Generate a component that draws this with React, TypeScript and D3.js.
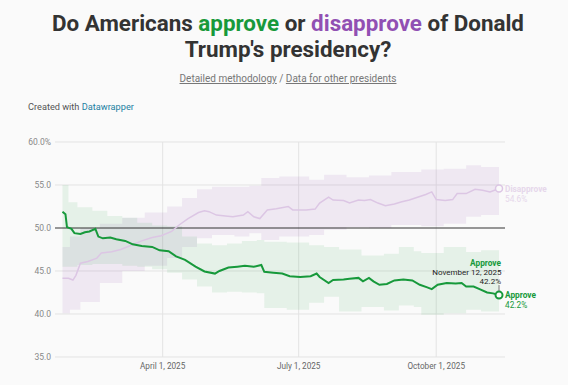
import React, { useRef, useEffect } from 'react';
import * as d3 from 'd3';

const yTicks = [35, 40, 45, 50, 55, 60];
const xTicks = ['2025-04-01', '2025-07-01', '2025-10-01'];

const approve: [string, number][] = [
  ['2025-01-24', 51.9], ['2025-01-26', 51.6], ['2025-01-27', 50.1], ['2025-01-30', 49.9],
  ['2025-02-01', 49.4], ['2025-02-05', 49.3], ['2025-02-08', 49.5], ['2025-02-11', 49.6],
  ['2025-02-15', 49.9], ['2025-02-17', 49.0], ['2025-02-20', 48.8], ['2025-02-25', 48.9],
  ['2025-03-01', 48.7], ['2025-03-07', 48.5], ['2025-03-12', 48.1], ['2025-03-18', 47.9],
  ['2025-03-25', 47.8], ['2025-03-30', 47.4], ['2025-04-05', 47.3], ['2025-04-10', 46.7],
  ['2025-04-16', 46.3], ['2025-04-23', 45.5], ['2025-04-29', 44.95], ['2025-05-06', 44.7],
  ['2025-05-09', 45.0], ['2025-05-15', 45.4], ['2025-05-21', 45.5], ['2025-05-26', 45.6],
  ['2025-06-01', 45.5], ['2025-06-06', 45.7], ['2025-06-08', 44.9], ['2025-06-14', 44.8],
  ['2025-06-20', 44.7], ['2025-06-25', 44.4], ['2025-07-02', 44.3], ['2025-07-09', 44.4],
  ['2025-07-13', 44.7], ['2025-07-15', 44.3], ['2025-07-21', 43.6], ['2025-07-24', 43.95],
  ['2025-07-31', 44.0], ['2025-08-04', 44.1], ['2025-08-10', 44.2], ['2025-08-13', 43.8],
  ['2025-08-17', 44.2], ['2025-08-20', 43.8], ['2025-08-24', 43.4], ['2025-08-29', 43.5],
  ['2025-09-03', 43.9], ['2025-09-09', 44.0], ['2025-09-15', 43.9], ['2025-09-20', 43.4],
  ['2025-09-25', 43.1], ['2025-09-28', 42.9], ['2025-10-02', 43.4], ['2025-10-08', 43.6],
  ['2025-10-14', 43.55], ['2025-10-18', 43.6], ['2025-10-21', 43.2], ['2025-10-26', 43.2],
  ['2025-10-30', 42.9], ['2025-11-04', 42.5], ['2025-11-08', 42.4], ['2025-11-12', 42.2],
];

const disapprove: [string, number][] = [
  ['2025-01-24', 44.15], ['2025-01-28', 44.15], ['2025-01-31', 43.95], ['2025-02-02', 44.5],
  ['2025-02-05', 45.9], ['2025-02-10', 46.1], ['2025-02-16', 46.5], ['2025-02-19', 47.1],
  ['2025-02-26', 47.25], ['2025-03-04', 47.5], ['2025-03-11', 48.0], ['2025-03-18', 48.5],
  ['2025-03-25', 48.9], ['2025-03-31', 49.1], ['2025-04-07', 49.6], ['2025-04-12', 50.35],
  ['2025-04-18', 51.1], ['2025-04-25', 51.8], ['2025-04-29', 52.0], ['2025-05-02', 51.9],
  ['2025-05-07', 51.5], ['2025-05-13', 51.4], ['2025-05-18', 51.3], ['2025-05-25', 51.5],
  ['2025-05-28', 51.9], ['2025-06-01', 51.3], ['2025-06-05', 51.1], ['2025-06-10', 52.1],
  ['2025-06-16', 52.25], ['2025-06-24', 52.5], ['2025-06-27', 52.1], ['2025-07-06', 52.1],
  ['2025-07-12', 52.2], ['2025-07-15', 52.9], ['2025-07-21', 53.6], ['2025-07-24', 53.25],
  ['2025-07-31', 53.2], ['2025-08-04', 52.9], ['2025-08-10', 53.25], ['2025-08-14', 53.2],
  ['2025-08-18', 53.3], ['2025-08-23', 52.9], ['2025-08-28', 52.6], ['2025-09-03', 52.8],
  ['2025-09-08', 53.05], ['2025-09-13', 53.25], ['2025-09-19', 53.6], ['2025-09-24', 53.9],
  ['2025-09-28', 54.2], ['2025-10-01', 53.3], ['2025-10-07', 53.2], ['2025-10-12', 53.3],
  ['2025-10-15', 54.0], ['2025-10-21', 54.0], ['2025-10-27', 54.5], ['2025-11-01', 54.4],
  ['2025-11-06', 54.2], ['2025-11-12', 54.6],
];

// [date, low, high]
const approveBand: [string, number, number][] = [
  ['2025-01-24', 45.5, 55.0], ['2025-01-28', 45.5, 53.0], ['2025-02-03', 45.7, 52.4],
  ['2025-02-13', 45.8, 52.0], ['2025-02-23', 45.8, 51.4], ['2025-03-05', 45.6, 51.2],
  ['2025-03-15', 45.5, 50.6], ['2025-03-25', 45.2, 50.3], ['2025-04-04', 44.8, 50.2],
  ['2025-04-14', 44.0, 49.0], ['2025-04-24', 43.2, 48.2], ['2025-05-04', 42.5, 48.0],
  ['2025-05-14', 42.6, 48.2], ['2025-05-24', 42.5, 48.5], ['2025-06-03', 42.4, 48.6],
  ['2025-06-08', 40.7, 48.4], ['2025-06-23', 40.5, 48.3], ['2025-07-08', 41.3, 48.0],
  ['2025-07-18', 42.0, 47.8], ['2025-07-28', 40.3, 47.5], ['2025-08-12', 40.8, 46.8],
  ['2025-08-27', 40.4, 47.0], ['2025-09-06', 41.0, 47.8], ['2025-09-16', 40.8, 47.3],
  ['2025-09-21', 39.9, 47.1], ['2025-10-06', 40.1, 47.8], ['2025-10-21', 40.5, 47.2],
  ['2025-10-31', 40.3, 47.4], ['2025-11-12', 40.1, 47.1],
];

const disapproveBand: [string, number, number][] = [
  ['2025-01-24', 40.1, 47.8], ['2025-01-29', 40.5, 49.0], ['2025-02-05', 41.4, 50.0],
  ['2025-02-18', 43.6, 50.5], ['2025-03-05', 45.0, 51.2], ['2025-03-20', 45.6, 51.8],
  ['2025-04-04', 46.5, 52.5], ['2025-04-14', 47.8, 53.5], ['2025-04-24', 48.8, 54.5],
  ['2025-05-04', 49.2, 54.8], ['2025-05-19', 49.0, 54.8], ['2025-05-29', 49.4, 54.9],
  ['2025-06-06', 48.6, 55.8], ['2025-06-18', 49.0, 56.0], ['2025-07-08', 49.2, 55.6],
  ['2025-07-18', 49.8, 56.2], ['2025-08-02', 50.1, 55.9], ['2025-08-17', 50.0, 56.1],
  ['2025-09-01', 50.35, 56.5], ['2025-09-21', 50.2, 56.8], ['2025-10-06', 50.5, 56.9],
  ['2025-10-21', 51.3, 57.3], ['2025-10-31', 51.5, 57.1], ['2025-11-12', 51.7, 57.3],
];

const green = '#17993b';
const purple = '#9150b3';
const fadedPurple = '#dcc6e4';

export default function App() {
  const svgRef = useRef<SVGSVGElement>(null);

  useEffect(() => {
    const svg = d3.select(svgRef.current);
    svg.selectAll('*').remove();
    const parse = d3.timeParse('%Y-%m-%d');
    const fmt = d3.timeFormat('%B %-d, %Y');

    const x = d3.scaleTime()
      .domain([parse('2025-01-19')!, parse('2025-11-16')!])
      .range([55, 505]);
    const y = d3.scaleLinear().domain([35, 60]).range([357, 142]);

    // title
    const title = svg.append('text')
      .attr('text-anchor', 'middle')
      .attr('font-size', 22.4)
      .attr('font-weight', 700)
      .attr('fill', '#333');
    const l1 = title.append('tspan').attr('x', 288).attr('y', 31);
    l1.append('tspan').text('Do Americans ');
    l1.append('tspan').attr('fill', green).text('approve');
    l1.append('tspan').text(' or ');
    l1.append('tspan').attr('fill', purple).text('disapprove');
    l1.append('tspan').text(' of Donald');
    title.append('tspan').attr('x', 288).attr('y', 57).text("Trump's presidency?");

    const sub = svg.append('text')
      .attr('x', 288).attr('y', 82)
      .attr('text-anchor', 'middle')
      .attr('font-size', 10)
      .attr('fill', '#777');
    sub.append('tspan').attr('text-decoration', 'underline').text('Detailed methodology');
    sub.append('tspan').text(' / ');
    sub.append('tspan').attr('text-decoration', 'underline').text('Data for other presidents');

    const credit = svg.append('text')
      .attr('x', 28).attr('y', 110)
      .attr('font-size', 9.2)
      .attr('fill', '#555');
    credit.append('tspan').text('Created with ');
    credit.append('tspan').attr('fill', '#1d81a2').text('Datawrapper');

    // grid
    svg.append('g').selectAll('line')
      .data(yTicks.filter(d => d !== 50))
      .join('line')
      .attr('x1', 55).attr('x2', 505)
      .attr('y1', d => y(d)).attr('y2', d => y(d))
      .attr('stroke', '#e3e3e3');
    svg.append('g').selectAll('line')
      .data(xTicks)
      .join('line')
      .attr('x1', d => x(parse(d)!)).attr('x2', d => x(parse(d)!))
      .attr('y1', y(60)).attr('y2', y(35))
      .attr('stroke', '#e3e3e3');

    svg.append('g').selectAll('text')
      .data(yTicks)
      .join('text')
      .attr('x', 51).attr('y', d => y(d) + 3)
      .attr('text-anchor', 'end')
      .attr('font-size', 8.5)
      .attr('fill', '#888')
      .text(d => d === 60 ? '60.0%' : d.toFixed(1));

    svg.append('g').selectAll('text')
      .data(xTicks)
      .join('text')
      .attr('x', d => x(parse(d)!)).attr('y', 369)
      .attr('text-anchor', 'middle')
      .attr('font-size', 8.2)
      .attr('fill', '#666')
      .text(d => fmt(parse(d)!));

    // bands
    const band = d3.area<[string, number, number]>()
      .x(d => x(parse(d[0])!))
      .y0(d => y(d[1]))
      .y1(d => y(d[2]))
      .curve(d3.curveStepAfter);
    svg.append('path').datum(disapproveBand)
      .attr('d', band)
      .attr('fill', purple).attr('fill-opacity', 0.1);
    svg.append('path').datum(approveBand)
      .attr('d', band)
      .attr('fill', green).attr('fill-opacity', 0.09);

    // 50 line
    svg.append('line')
      .attr('x1', 55).attr('x2', 505)
      .attr('y1', y(50)).attr('y2', y(50))
      .attr('stroke', '#333');

    const line = d3.line<[string, number]>()
      .x(d => x(parse(d[0])!))
      .y(d => y(d[1]));

    svg.append('path').datum(disapprove)
      .attr('d', line)
      .attr('fill', 'none')
      .attr('stroke', fadedPurple)
      .attr('stroke-width', 1.5);
    svg.append('path').datum(approve)
      .attr('d', line)
      .attr('fill', 'none')
      .attr('stroke', green)
      .attr('stroke-width', 2);

    const lastA = approve[approve.length - 1];
    const lastD = disapprove[disapprove.length - 1];
    const ax = x(parse(lastA[0])!), ay = y(lastA[1]);
    const dx = x(parse(lastD[0])!), dy = y(lastD[1]);

    svg.append('circle').attr('cx', dx).attr('cy', dy).attr('r', 3.5)
      .attr('fill', '#fafafa').attr('stroke', fadedPurple).attr('stroke-width', 1.5);
    svg.append('circle').attr('cx', ax).attr('cy', ay).attr('r', 3.5)
      .attr('fill', '#fafafa').attr('stroke', green).attr('stroke-width', 2);

    // end labels
    svg.append('text').attr('x', 505).attr('y', dy + 4)
      .attr('font-size', 8.3).attr('font-weight', 700).attr('fill', '#e6d7eb')
      .text('Disapprove');
    svg.append('text').attr('x', 505).attr('y', dy + 13.3)
      .attr('font-size', 8.3).attr('fill', '#e6d7eb')
      .text(lastD[1].toFixed(1) + '%');
    svg.append('text').attr('x', 505).attr('y', ay + 3.2)
      .attr('font-size', 8.3).attr('font-weight', 700).attr('fill', green)
      .text('Approve');
    svg.append('text').attr('x', 505).attr('y', ay + 12.6)
      .attr('font-size', 8.3).attr('fill', green)
      .text(lastA[1].toFixed(1) + '%');

    // tooltip annotation
    svg.append('line').attr('x1', ax).attr('x2', ax)
      .attr('y1', ay - 10).attr('y2', ay - 4)
      .attr('stroke', '#555').attr('stroke-width', 0.8);
    svg.append('text').attr('x', ax + 2).attr('y', ay - 29.4)
      .attr('text-anchor', 'end').attr('font-size', 8.3).attr('font-weight', 700)
      .attr('fill', green).text('Approve');
    svg.append('text').attr('x', ax + 2.5).attr('y', ay - 20.4)
      .attr('text-anchor', 'end').attr('font-size', 8).attr('fill', '#222')
      .text(fmt(parse(lastA[0])!));
    svg.append('text').attr('x', ax + 2).attr('y', ay - 11.4)
      .attr('text-anchor', 'end').attr('font-size', 8).attr('fill', '#222')
      .text(lastA[1].toFixed(1) + '%');
  }, []);

  return (
    <svg
      ref={svgRef}
      width={568}
      height={385}
      style={{ position: 'absolute', left: 0, top: 0, background: '#fafafa', fontFamily: 'Roboto, sans-serif' }}
    />
  );
}
